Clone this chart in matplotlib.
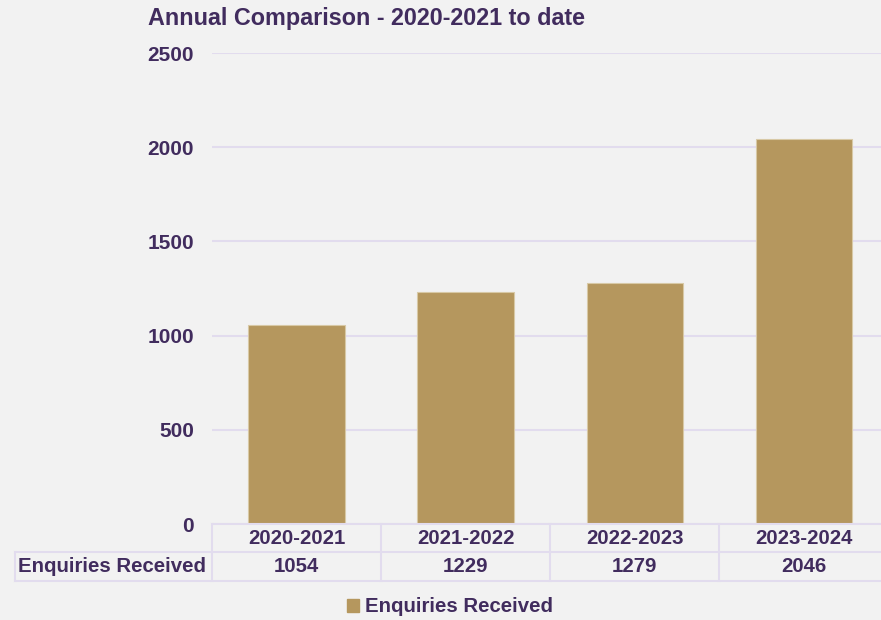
import numpy as np
import matplotlib.pyplot as plt
from matplotlib.patches import Rectangle

plt.rcParams['font.family'] = ['Liberation Sans', 'DejaVu Sans']
plt.rcParams['font.weight'] = 'bold'

years = ['2020-2021', '2021-2022', '2022-2023', '2023-2024']
enquiries = [1054, 1229, 1279, 2046]
series_name = 'Enquiries Received'
yticks = [0, 500, 1000, 1500, 2000, 2500]

BG = '#f2f2f2'
TXT = '#412c5e'
BAR = '#b5975e'
GRID = '#e2dcee'
FS = 14.7

fig = plt.figure(figsize=(8.81, 6.2), dpi=100, facecolor=BG)
ax = fig.add_axes([0.2406, 0.1548, 0.768, 0.7597])
ax.set_facecolor(BG)

x = np.arange(len(years))
ax.bar(x, enquiries, width=0.57, color=BAR, edgecolor='#d8c9a6', linewidth=0.8, zorder=3)

ax.set_xlim(-0.5, len(years) - 0.5)
ax.set_ylim(0, 2500)
ax.set_yticks(yticks)
ax.set_yticklabels([str(t) for t in yticks], fontsize=15, color=TXT, fontweight='bold')
ax.tick_params(axis='y', length=0, pad=13)
ax.set_xticks([])
ax.grid(axis='y', color=GRID, linewidth=1.5, zorder=0)
for s in ax.spines.values():
    s.set_visible(False)

# data table underneath the bars, laid out in category units
row_h = 150  # data units per table row
tbl_kw = dict(color=GRID, linewidth=1.5, clip_on=False, zorder=4)
label_left = -0.5 - 197 / 169
ax.plot([-0.5, len(years) - 0.5], [0, 0], **tbl_kw)
ax.plot([label_left, len(years) - 0.5], [-row_h, -row_h], **tbl_kw)
ax.plot([label_left, len(years) - 0.5], [-2 * row_h, -2 * row_h], **tbl_kw)
ax.plot([label_left, label_left], [-row_h, -2 * row_h], **tbl_kw)
for i in range(len(years) + 1):
    ax.plot([i - 0.5, i - 0.5], [0, -2 * row_h], **tbl_kw)

for i, (yr, v) in enumerate(zip(years, enquiries)):
    ax.text(i, -row_h / 2, yr, ha='center', va='center', fontsize=FS,
            color=TXT, fontweight='bold', clip_on=False)
    ax.text(i, -1.5 * row_h, str(v), ha='center', va='center', fontsize=FS,
            color=TXT, fontweight='bold', clip_on=False)
ax.text(label_left + 0.02, -1.5 * row_h, series_name, ha='left', va='center',
        fontsize=FS, color=TXT, fontweight='bold', clip_on=False)

fig.text(148 / 881, 1 - 18 / 620, 'Annual Comparison - 2020-2021 to date',
         ha='left', va='center', fontsize=16.8, color=TXT, fontweight='bold')

leg = fig.legend(handles=[Rectangle((0, 0), 1, 1, color=BAR)], labels=[series_name],
                 loc='center', bbox_to_anchor=(450 / 881, 1 - 607 / 620),
                 frameon=False, handlelength=0.6, handleheight=0.6,
                 handletextpad=0.3, prop={'size': FS, 'weight': 'bold'})
for t in leg.get_texts():
    t.set_color(TXT)

fig.savefig('out.png', dpi=100, facecolor=BG)
